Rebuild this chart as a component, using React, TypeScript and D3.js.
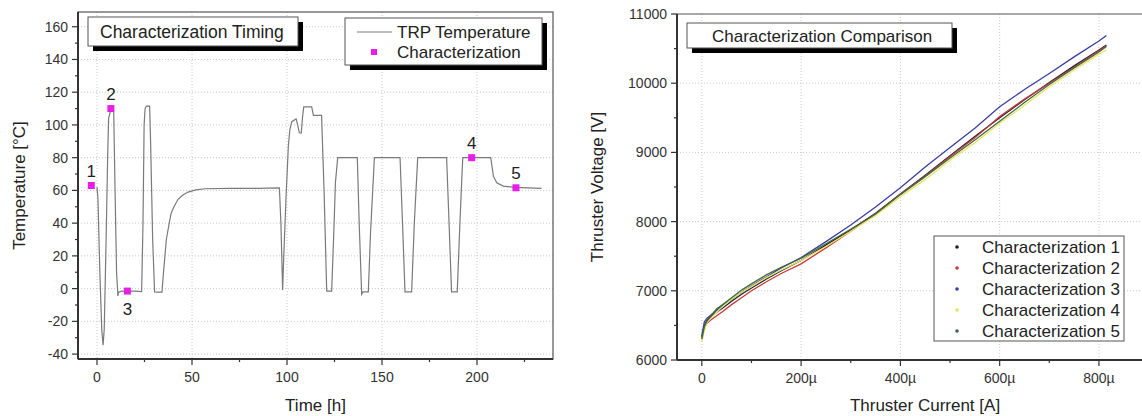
import React from "react";
import * as d3 from "d3";

// ---------- Left chart data ----------
const tempTime = [0,0.5,1.5,2.5,3.2,3.8,4.8,5.6,6.1,7,8,8.8,9.5,10.3,11,11.5,13,16,20,23.5,24.2,24.8,25.3,26,27.7,28.2,29.3,30.3,32,34.2,35,36.5,38,39,40.5,42.6,45,47.9,52,56.7,70,85,96,96.8,97.7,98.3,99.5,100.7,101.5,102.5,104.8,105.6,106.5,107.5,108.2,108.8,113,113.9,118.2,119.5,120.9,123.5,124.5,125.5,126.7,137,138,139.3,140,142.8,144,146,159.5,160.8,162.1,165.6,167,168.8,184,185.3,186.6,189.6,191,192.5,207.2,208,208.6,210.4,213.8,220,234];
const tempValue = [62,55,10,-25,-34.5,-25,30,80,104,108,110,108,60,10,-4.5,-2,-1.5,-1.5,-1.5,-1.8,40,100,110,111.5,111.5,90,30,-2,-2.2,-2.2,10,30,40,46,50,54.4,57,59,60.3,61,61.2,61.3,61.5,40,-1,20,56,87,97,102,103.7,100,95.2,95,105,111,111,105.8,105.8,60,-1.5,-1.5,30,65,80,80,40,-3.5,-2,-2,35,80,80,40,-2,-2,40,80,80,40,-2,-2,40,80,80,74,68.7,64.6,62.6,61.8,61.2];
const charTime = [-3, 7.3, 16, 197.2, 220.5];
const charTemp = [63, 110, -1.5, 80, 61.6];
const charLabels = ["1", "2", "3", "4", "5"];
const timeTicks = [0, 50, 100, 150, 200];
const timeMinor = [25, 75, 125, 175, 225];
const tempTicks = [-40, -20, 0, 20, 40, 60, 80, 100, 120, 140, 160];
const tempMinor = [-30, -10, 10, 30, 50, 70, 90, 110, 130, 150];

// ---------- Right chart data ----------
const currentUA = [0,5,10,20,30,40,60,80,100,130,160,200,250,300,350,400,450,500,550,600,650,700,750,800,815];
const char1 = [6330,6500,6570,6640,6690,6740,6850,6950,7040,7170,7290,7440,7660,7880,8120,8400,8670,8950,9230,9500,9760,10010,10250,10480,10550];
const char2 = [6320,6450,6530,6590,6640,6690,6800,6900,7000,7130,7250,7390,7620,7860,8110,8400,8660,8940,9210,9520,9770,10000,10230,10470,10540];
const char3 = [6350,6550,6600,6660,6720,6780,6880,6980,7070,7200,7330,7480,7710,7950,8210,8490,8790,9070,9350,9660,9910,10140,10380,10610,10690];
const char4 = [6260,6420,6540,6620,6690,6760,6880,6980,7060,7190,7300,7440,7640,7860,8090,8360,8610,8890,9140,9420,9680,9950,10190,10420,10480];
const char5 = [6300,6480,6560,6650,6740,6790,6900,7010,7100,7230,7340,7470,7680,7890,8110,8390,8650,8920,9180,9450,9720,9980,10220,10450,10530];
const seriesNames = ["Characterization 1","Characterization 2","Characterization 3","Characterization 4","Characterization 5"];
const seriesColors = ["#1c1c30", "#c83a3a", "#3c3ca0", "#e6e65a", "#3f6a44"];
const currentTicks = [0, 200, 400, 600, 800];
const currentTickLabels = ["0", "200µ", "400µ", "600µ", "800µ"];
const currentMinor = [100, 300, 500, 700, 900];
const voltTicks = [6000, 7000, 8000, 9000, 10000, 11000];
const voltMinor = [6500, 7500, 8500, 9500, 10500];

const FONT = "'Liberation Sans', Arial, sans-serif";
const AXIS = "#333";
const GRID = "#c8c8c8";
const TXT = 17;
const TICK = 14;

function ShadowBox({ x, y, w, h }: { x: number; y: number; w: number; h: number }) {
  return (
    <g>
      <rect x={x + 5} y={y + 5} width={w} height={h} fill="#000" />
      <rect x={x} y={y} width={w} height={h} fill="#fff" stroke="#555" strokeWidth={1} />
    </g>
  );
}

export default function App() {
  // Left scales
  const L = { left: 78, right: 553, top: 12, bottom: 359 };
  const xL = d3.scaleLinear().domain([-10, 240]).range([L.left, L.right]);
  const yL = d3.scaleLinear().domain([-43, 169]).range([L.bottom, L.top]);
  const lineL = d3.line<number>().x((_, i) => xL(tempTime[i])).y((d) => yL(d));

  // Right scales
  const R = { left: 677, right: 1160, top: 14, bottom: 360 };
  const xR = d3.scaleLinear().domain([-50, 923]).range([R.left, R.right]);
  const yR = d3.scaleLinear().domain([6000, 11000]).range([R.bottom, R.top]);
  const allSeries = [char1, char2, char3, char4, char5];
  const lineR = d3.line<number>().x((_, i) => xR(currentUA[i])).y((d) => yR(d));

  return (
    <svg width={1142} height={416} style={{ position: "absolute", left: 0, top: 0, background: "#fff" }} fontFamily={FONT}>
      <rect width={1142} height={416} fill="#fff" />
      {/* ================= LEFT CHART ================= */}
      <g>
        {timeTicks.map((t) => (
          <line key={"gx" + t} x1={xL(t)} x2={xL(t)} y1={L.top} y2={L.bottom} stroke={GRID} strokeDasharray="1,2" />
        ))}
        {tempTicks.map((v) => (
          <line key={"gy" + v} x1={L.left} x2={L.right} y1={yL(v)} y2={yL(v)} stroke={GRID} strokeDasharray="1,2" />
        ))}
        <rect x={L.left} y={L.top} width={L.right - L.left} height={L.bottom - L.top} fill="none" stroke="#555" strokeWidth={1.2} />
        <line x1={L.left} x2={L.left} y1={L.top} y2={L.bottom} stroke={AXIS} strokeWidth={2} />
        <line x1={L.left} x2={L.right} y1={L.bottom} y2={L.bottom} stroke={AXIS} strokeWidth={2} />
        {timeTicks.map((t) => (
          <g key={"tx" + t}>
            <line x1={xL(t)} x2={xL(t)} y1={L.bottom} y2={L.bottom + 6} stroke={AXIS} strokeWidth={1.2} />
            <text x={xL(t)} y={L.bottom + 23} textAnchor="middle" fontSize={TICK} fill="#333">{t}</text>
          </g>
        ))}
        {timeMinor.map((t) => (
          <line key={"mx" + t} x1={xL(t)} x2={xL(t)} y1={L.bottom} y2={L.bottom + 3} stroke={AXIS} strokeWidth={1.2} />
        ))}
        {tempTicks.map((v) => (
          <g key={"ty" + v}>
            <line x1={L.left - 6} x2={L.left} y1={yL(v)} y2={yL(v)} stroke={AXIS} strokeWidth={1.2} />
            <text x={L.left - 10} y={yL(v) + 5} textAnchor="end" fontSize={TICK} fill="#333">{v}</text>
          </g>
        ))}
        {tempMinor.map((v) => (
          <line key={"my" + v} x1={L.left - 3} x2={L.left} y1={yL(v)} y2={yL(v)} stroke={AXIS} strokeWidth={1.2} />
        ))}
        <path d={lineL(tempValue) || ""} fill="none" stroke="#7a7a7a" strokeWidth={1.2} />
        {charTime.map((t, i) => (
          <g key={"cm" + i}>
            <rect x={xL(t) - 3.5} y={yL(charTemp[i]) - 3.5} width={7} height={7} fill="#e81ee8" />
            <text x={xL(t)} y={i === 2 ? yL(charTemp[i]) + 24 : yL(charTemp[i]) - 9} textAnchor="middle" fontSize={TXT} fill="#222">{charLabels[i]}</text>
          </g>
        ))}
        <text transform={`translate(25,${(L.top + L.bottom) / 2}) rotate(-90)`} textAnchor="middle" fontSize={TXT} fill="#222">Temperature [°C]</text>
        <text x={(L.left + L.right) / 2} y={411} textAnchor="middle" fontSize={TXT} fill="#222">Time [h]</text>
        {/* title box */}
        <ShadowBox x={88} y={17} w={210} h={29} />
        <text x={100} y={38} fontSize={17.5} fill="#222">Characterization Timing</text>
        {/* legend */}
        <ShadowBox x={345} y={18} w={197} h={47} />
        <line x1={357} x2={392} y1={32} y2={32} stroke="#7a7a7a" strokeWidth={1.2} />
        <text x={397} y={38} fontSize={TXT} fill="#222">TRP Temperature</text>
        <rect x={371} y={49} width={6} height={6} fill="#e81ee8" />
        <text x={397} y={58} fontSize={TXT} fill="#222">Characterization</text>
      </g>

      {/* ================= RIGHT CHART ================= */}
      <g>
        {currentTicks.map((t) => (
          <line key={"rgx" + t} x1={xR(t)} x2={xR(t)} y1={R.top} y2={R.bottom} stroke={GRID} strokeDasharray="1,2" />
        ))}
        {voltTicks.slice(1, -1).map((v) => (
          <line key={"rgy" + v} x1={R.left} x2={R.right} y1={yR(v)} y2={yR(v)} stroke={GRID} strokeDasharray="1,2" />
        ))}
        <line x1={R.left} x2={R.right} y1={R.top} y2={R.top} stroke="#555" strokeWidth={1.2} />
        <line x1={R.left} x2={R.left} y1={R.top} y2={R.bottom} stroke={AXIS} strokeWidth={2} />
        <line x1={R.left} x2={R.right} y1={R.bottom} y2={R.bottom} stroke={AXIS} strokeWidth={2} />
        {currentTicks.map((t, i) => (
          <g key={"rtx" + t}>
            <line x1={xR(t)} x2={xR(t)} y1={R.bottom} y2={R.bottom + 6} stroke={AXIS} strokeWidth={1.2} />
            <text x={xR(t)} y={R.bottom + 23} textAnchor="middle" fontSize={TICK} fill="#333">{currentTickLabels[i]}</text>
          </g>
        ))}
        {currentMinor.map((t) => (
          <line key={"rmx" + t} x1={xR(t)} x2={xR(t)} y1={R.bottom} y2={R.bottom + 3} stroke={AXIS} strokeWidth={1.2} />
        ))}
        {voltTicks.map((v) => (
          <g key={"rty" + v}>
            <line x1={R.left - 6} x2={R.left} y1={yR(v)} y2={yR(v)} stroke={AXIS} strokeWidth={1.2} />
            <text x={R.left - 10} y={yR(v) + 5} textAnchor="end" fontSize={TICK} fill="#333">{v}</text>
          </g>
        ))}
        {voltMinor.map((v) => (
          <line key={"rmy" + v} x1={R.left - 3} x2={R.left} y1={yR(v)} y2={yR(v)} stroke={AXIS} strokeWidth={1.2} />
        ))}
        {allSeries.map((s, k) => (
          <path key={"s" + k} d={lineR(s) || ""} fill="none" stroke={seriesColors[k]} strokeWidth={1.3} />
        ))}
        <text transform={`translate(603,${(R.top + R.bottom) / 2}) rotate(-90)`} textAnchor="middle" fontSize={TXT} fill="#222">Thruster Voltage [V]</text>
        <text x={925} y={411} textAnchor="middle" fontSize={TXT} fill="#222">Thruster Current [A]</text>
        <ShadowBox x={687} y={23} w={265} h={25} />
        <text x={712} y={42} fontSize={TXT} fill="#222">Characterization Comparison</text>
        {/* legend */}
        <rect x={934} y={236} width={190} height={105} fill="#fff" stroke="#555" strokeWidth={1} />
        {seriesNames.map((n, k) => (
          <g key={"lg" + k}>
            <circle cx={957} cy={247 + k * 21} r={1.8} fill={seriesColors[k]} />
            <text x={982} y={253 + k * 21} fontSize={TXT} fill="#222">{n}</text>
          </g>
        ))}
      </g>
    </svg>
  );
}
